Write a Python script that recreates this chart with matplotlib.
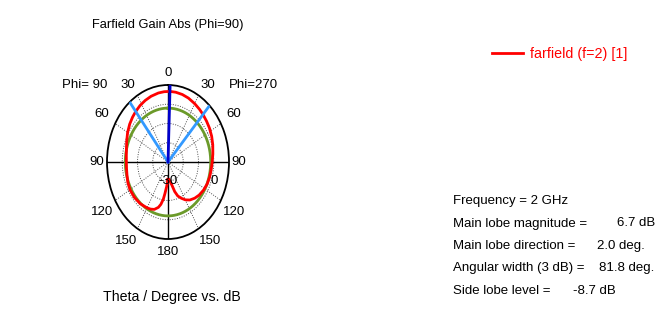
import matplotlib
matplotlib.use('Agg')
import matplotlib.pyplot as plt
import numpy as np

plt.rcParams['font.family'] = ['Liberation Sans', 'DejaVu Sans']

# ------------------------------------------------------------
# data (theta clockwise from top, deg)
# ------------------------------------------------------------
theta_deg = [-180, -178, -176, -173, -171, -168, -165, -160, -155, -150, -140, -130,
             -120, -112, -105, -97, -90, -82, -75, -68, -60, -52, -45, -39, -32, -25,
             -18, -10, -4, 2, 8, 15, 22, 30, 37, 43, 50, 57, 65, 73, 82, 90, 98,
             106, 114, 122, 130, 137, 144, 150, 155, 160, 164, 168, 172, 176, 180]
gain_db = [-21.0, -19.5, -17.2, -13.5, -10.5, -7.5, -5.6, -3.8, -3.0, -2.5, -1.7, -1.3,
           -1.2, -1.6, -2.2, -2.6, -2.7, -2.4, -1.8, -0.8, 0.6, 1.9, 2.9, 3.7, 4.6, 5.3,
           5.9, 6.4, 6.6, 6.7, 6.6, 6.3, 5.8, 5.0, 4.3, 3.7, 3.0, 2.4, 1.6, 0.7, -0.3, -1.0, -1.4,
           -1.6, -1.9, -2.5, -3.3, -4.3, -5.6, -7.3, -9.2, -11.2, -14.0, -17.7, -19.8, -21.0, -21.0]

freq_ghz = 2
main_lobe_mag = 6.7       # dB
main_lobe_dir = 2.0       # deg
angular_width = 81.8      # deg (3 dB)
side_lobe_level = -8.7    # dB

theta_ticks = [0, 30, 60, 90, 120, 150, 180, 210, 240, 270, 300, 330]
theta_labels = ['0', '30', '60', '90', '120', '150', '180', '150', '120', '90', '60', '30']
r_min, r_max = -30, 10

# ------------------------------------------------------------
fig = plt.figure(figsize=(6.55, 3.16), dpi=100)
W, H = 655, 316
cx, cy, rx, ry = 168, 162, 61, 77
ax = fig.add_axes([(cx - rx) / W, (H - cy - ry) / H, 2 * rx / W, 2 * ry / H],
                  projection='polar')
ax.set_aspect('auto')
ax.set_theta_zero_location('N')
ax.set_theta_direction(-1)
ax.set_ylim(r_min, r_max)

# grid: dotted rings and spokes
ax.set_rgrids([-20, -10, 0], labels=['', '', ''])
ax.set_thetagrids(theta_ticks, labels=[''] * len(theta_ticks))
ax.grid(True, color='#505050', linestyle=(0, (1, 1.5)), linewidth=0.7)
ax.spines['polar'].set_linewidth(1.3)
ax.spines['polar'].set_color('black')

# theta labels placed just outside the rim (radius / angle tweaks per label)
lab_r = [16, 18, 20, 16.4, 20.8, 19.6, 17, 19.6, 20.8, 16.4, 20, 18]
lab_a = [0, 33, 60, 90, 121, 146, 180, 214, 239, 270, 300, 327]
for a, r, s in zip(lab_a, lab_r, theta_labels):
    ax.text(np.radians(a), r, s, fontsize=9.5, ha='center', va='center', clip_on=False)

# solid axes cross
for a in [0, 90, 180, 270]:
    ax.plot([np.radians(a)] * 2, [r_min, r_max], color='black', lw=1, zorder=2)

# side lobe level circle
tt = np.linspace(0, 2 * np.pi, 361)
ax.plot(tt, np.full_like(tt, main_lobe_mag + side_lobe_level), color='#6b9a2a', lw=2, zorder=3)

# pattern
ax.plot(np.radians(theta_deg), gain_db, color='#ff0000', lw=2, zorder=4,
        label='farfield (f=2) [1]')

# 3 dB beam edges and main direction
for a in [main_lobe_dir - angular_width / 2, main_lobe_dir + angular_width / 2]:
    ax.plot([np.radians(a)] * 2, [r_min, r_max], color='#3399ff', lw=2, zorder=5)
ax.plot([np.radians(main_lobe_dir)] * 2, [r_min, r_max], color='#0000cc', lw=2, zorder=6)

# radial labels, a bit below the horizontal axis
for r, s in [(r_min, '-30'), (0, '0')]:
    ax.annotate(s, xy=(np.radians(90), r), xytext=(0, -19), textcoords='offset pixels',
                fontsize=9.5, ha='center', va='center', zorder=7)

# texts around the plot
fig.text(168 / W, 1 - 25 / H, 'Farfield Gain Abs (Phi=90)', fontsize=9.3, ha='center', va='center')
fig.text(85 / W, 1 - 85 / H, 'Phi= 90', fontsize=9.5, ha='center', va='center')
fig.text(253 / W, 1 - 85 / H, 'Phi=270', fontsize=9.5, ha='center', va='center')
fig.text(172 / W, 1 - 297 / H, 'Theta / Degree vs. dB', fontsize=10.2, ha='center', va='center')

# legend
fig.legend(loc='center left', bbox_to_anchor=(479 / W, 1 - 54 / H), frameon=False,
           fontsize=10.3, handlelength=2.2, handletextpad=0.5, labelcolor='#ff0000')

info = [('Frequency = %g GHz' % freq_ghz, None, None),
        ('Main lobe magnitude =', '%.1f dB' % main_lobe_mag, 617),
        ('Main lobe direction =', '%.1f deg.' % main_lobe_dir, 597),
        ('Angular width (3 dB) =', '%.1f deg.' % angular_width, 599),
        ('Side lobe level =', '%.1f dB' % side_lobe_level, 573)]
ys = [201, 223.5, 246, 268.5, 291]
for (lab, val, xv), y in zip(info, ys):
    fig.text(453 / W, 1 - y / H, lab, fontsize=9.5, ha='left', va='center')
    if val is not None:
        fig.text(xv / W, 1 - y / H, val, fontsize=9.5, ha='left', va='center')

fig.savefig('out.png', dpi=100)
